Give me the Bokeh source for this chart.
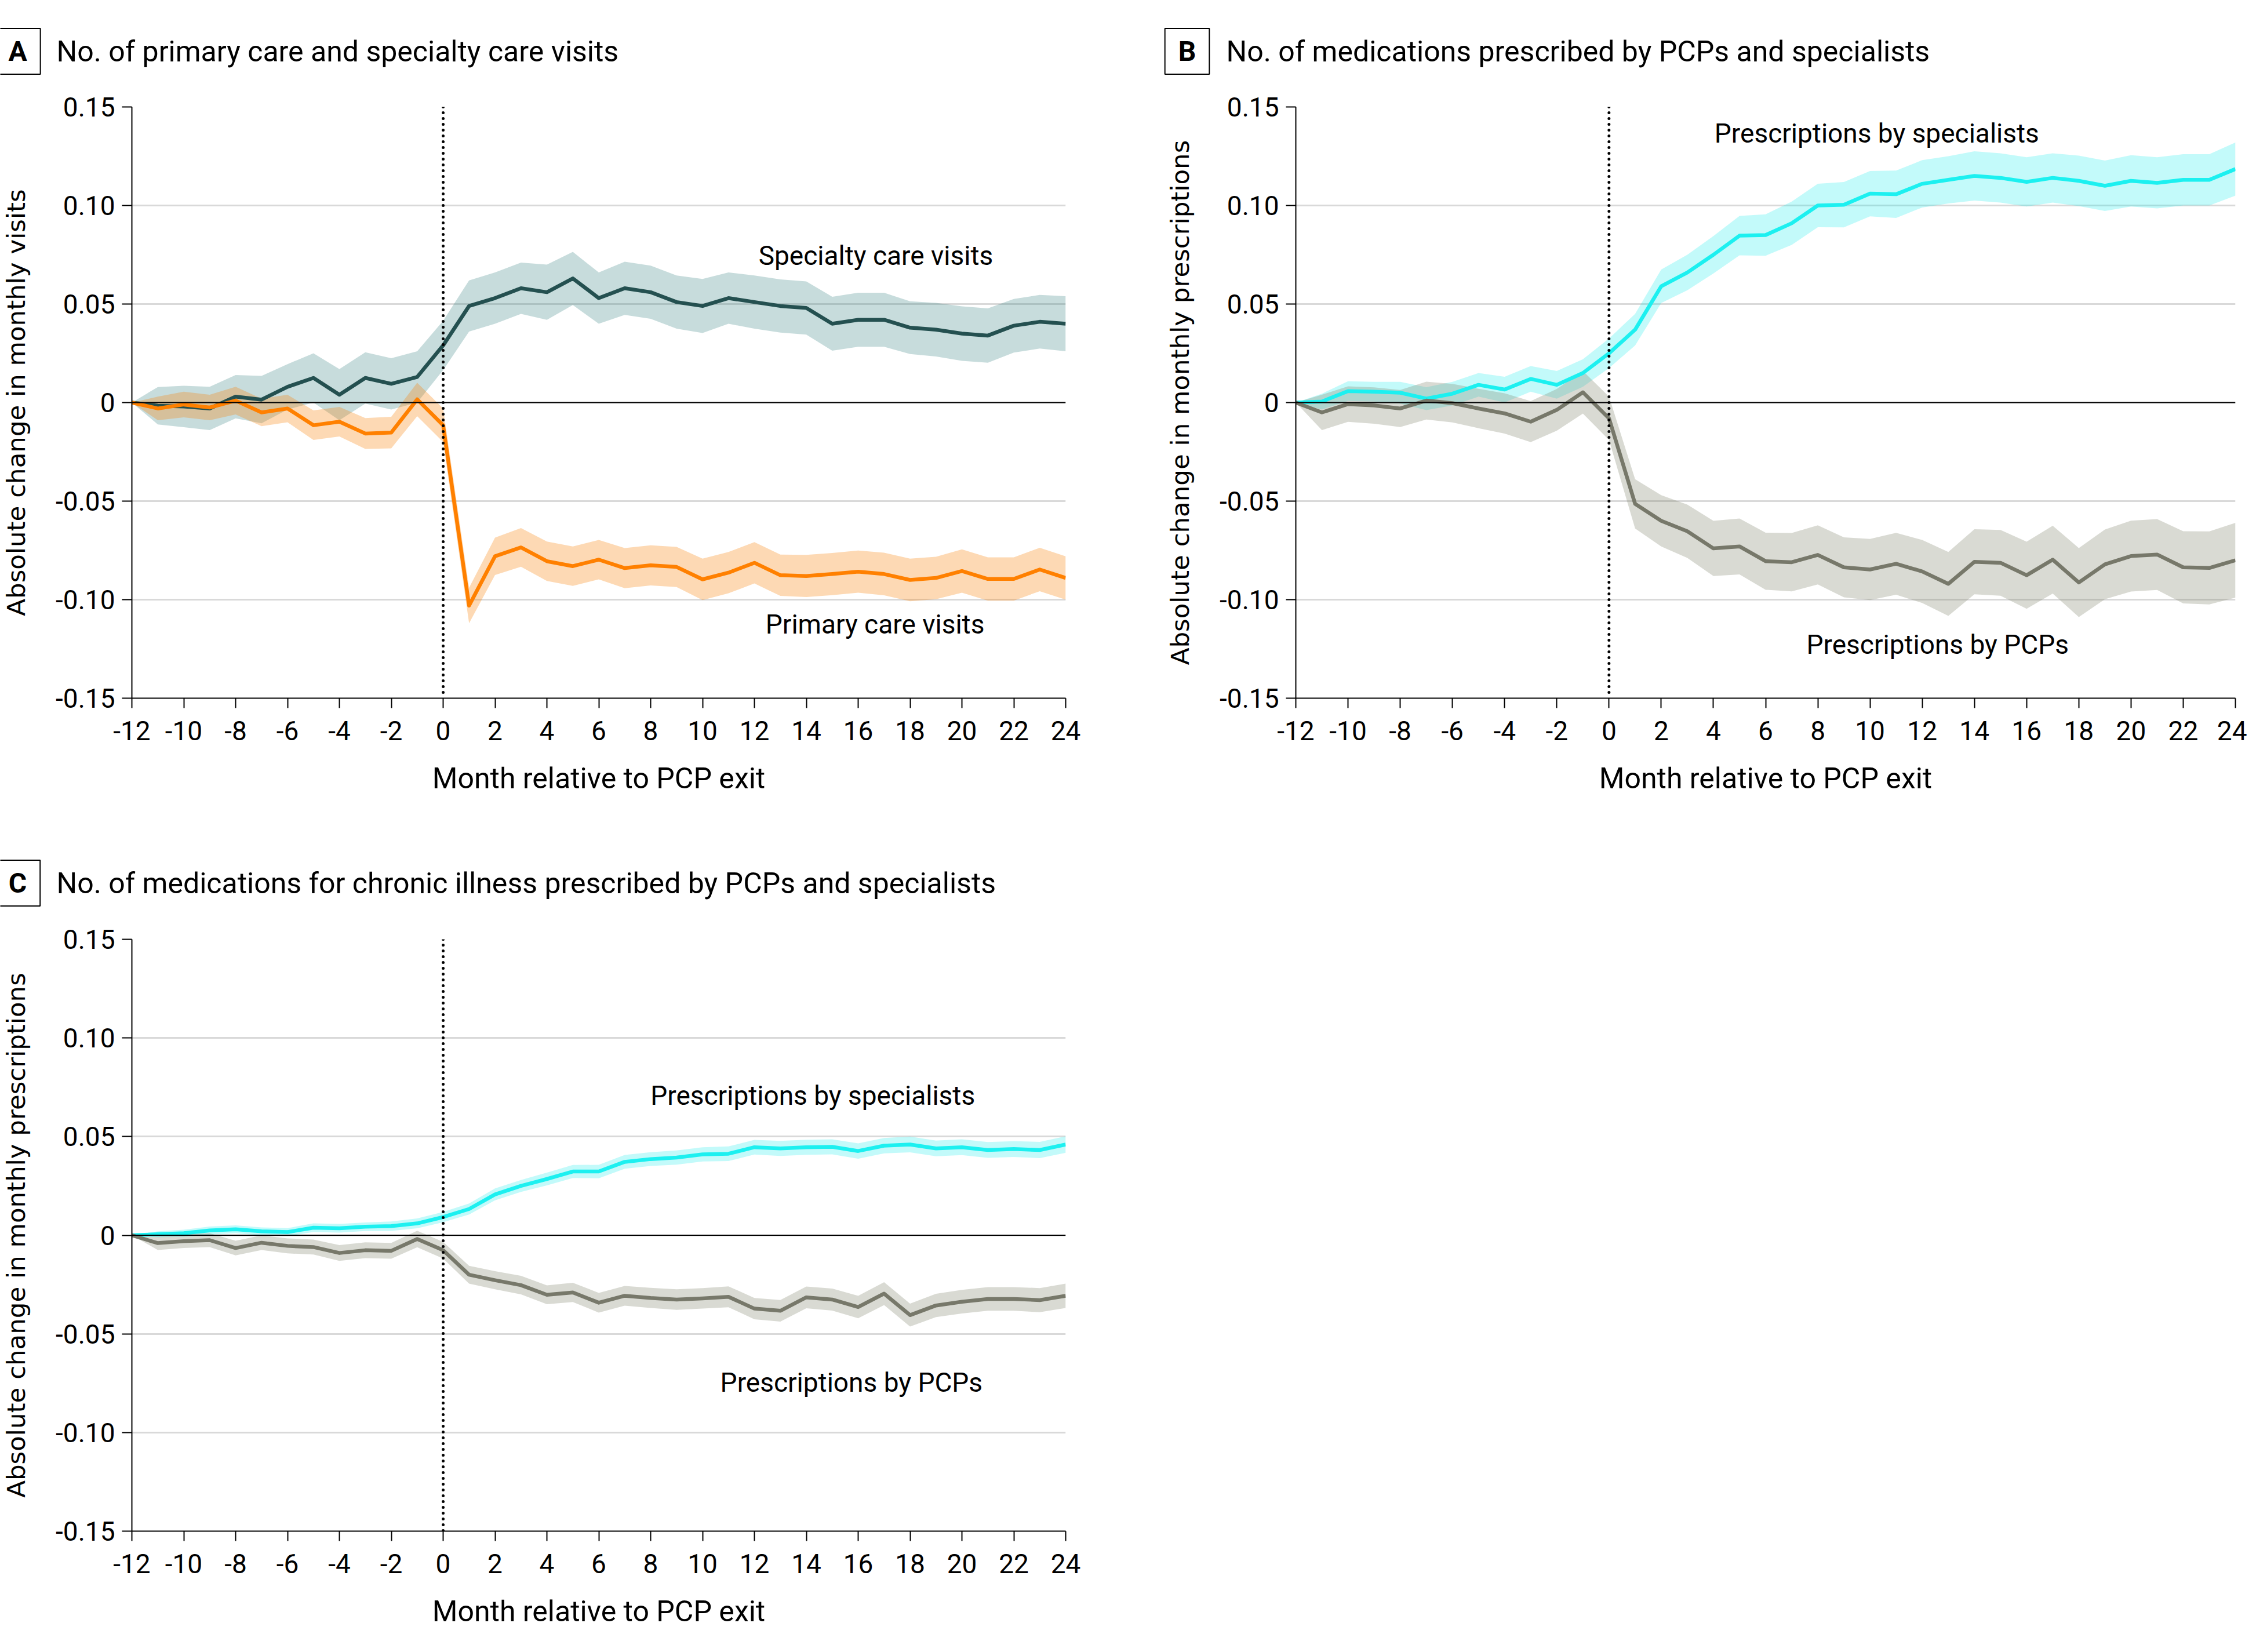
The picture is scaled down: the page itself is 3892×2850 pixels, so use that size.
import numpy as np
from bokeh.plotting import figure
from bokeh.models import FixedTicker, Label, Span
from bokeh.layouts import column, row
from bokeh.embed import file_html
from bokeh.resources import INLINE

months = list(range(-12, 25))
x_ticks = list(range(-12, 25, 2))
x_tick_labels = [str(t) for t in x_ticks]
y_ticks = [-0.15, -0.10, -0.05, 0, 0.05, 0.10, 0.15]
y_tick_labels = ["-0.15", "-0.10", "-0.05", "0", "0.05", "0.10", "0.15"]

# Panel A: visits
a_spec = [0, -0.0016, -0.002, -0.003, 0.003, 0.0015, 0.008, 0.0125, 0.004, 0.0125, 0.0095, 0.013,
          0.029, 0.049, 0.053, 0.058, 0.056, 0.063, 0.053, 0.058, 0.056, 0.051, 0.049, 0.053, 0.051,
          0.049, 0.048, 0.040, 0.042, 0.042, 0.038, 0.037, 0.035, 0.034, 0.039, 0.041, 0.040]
a_spec_hw = [0, 0.0095, 0.0105, 0.011, 0.011, 0.012, 0.0115, 0.0125, 0.013, 0.013, 0.013, 0.013,
             0.0125, 0.013, 0.013, 0.013, 0.014, 0.0135, 0.013, 0.0135, 0.0135, 0.0135, 0.0137, 0.013,
             0.0135, 0.0135, 0.0135, 0.0137, 0.0137, 0.0137, 0.0134, 0.0136, 0.0138, 0.0138, 0.0136,
             0.0136, 0.014]
a_prim = [0, -0.003, -0.001, -0.0025, 0.001, -0.005, -0.003, -0.0115, -0.0097, -0.0157, -0.0152, 0.0016,
          -0.0115, -0.103, -0.078, -0.0735, -0.0805, -0.083, -0.0797, -0.084, -0.0826, -0.0834, -0.0897,
          -0.0863, -0.0813, -0.0876, -0.088, -0.087, -0.0858, -0.087, -0.090, -0.089, -0.0855, -0.0895,
          -0.0895, -0.0847, -0.089]
a_prim_hw = [0, 0.006, 0.0065, 0.0065, 0.007, 0.007, 0.007, 0.0075, 0.0075, 0.0078, 0.008, 0.0085,
             0.0085, 0.009, 0.0095, 0.0098, 0.010, 0.010, 0.010, 0.0102, 0.0102, 0.0102, 0.0105, 0.0105,
             0.0105, 0.0105, 0.0107, 0.0107, 0.0107, 0.0108, 0.0108, 0.0108, 0.011, 0.011, 0.011, 0.011,
             0.011]

# Panel B: all prescriptions
b_spec = [0, 0.0005, 0.0058, 0.0055, 0.005, 0.002, 0.0045, 0.009, 0.0066, 0.012, 0.009, 0.015,
          0.025, 0.037, 0.059, 0.066, 0.075, 0.0847, 0.085, 0.091, 0.100, 0.1004, 0.106, 0.1057, 0.111,
          0.113, 0.115, 0.114, 0.112, 0.114, 0.1125, 0.110, 0.1125, 0.1115, 0.113, 0.113, 0.1185]
b_spec_hw = [0, 0.004, 0.005, 0.005, 0.0055, 0.0058, 0.006, 0.006, 0.0065, 0.0065, 0.007, 0.007,
             0.0075, 0.008, 0.0085, 0.009, 0.0095, 0.010, 0.0105, 0.011, 0.011, 0.0115, 0.0115, 0.012,
             0.012, 0.012, 0.0125, 0.0125, 0.0125, 0.0125, 0.0128, 0.0128, 0.013, 0.013, 0.013, 0.013,
             0.0135]
b_pcp = [0, -0.005, -0.0008, -0.0015, -0.003, 0.001, -0.0003, -0.003, -0.0055, -0.0097, -0.0037, 0.0052,
         -0.008, -0.0514, -0.060, -0.0653, -0.074, -0.073, -0.0805, -0.081, -0.0773, -0.0836, -0.0847,
         -0.0818, -0.0857, -0.092, -0.0808, -0.0813, -0.0876, -0.0797, -0.0913, -0.0821, -0.0779, -0.0771,
         -0.0836, -0.0839, -0.080]
b_pcp_hw = [0, 0.009, 0.009, 0.0092, 0.0094, 0.0096, 0.0098, 0.010, 0.0102, 0.0104, 0.0106, 0.0108,
            0.011, 0.0125, 0.013, 0.0135, 0.014, 0.0142, 0.0145, 0.0148, 0.015, 0.0152, 0.0155, 0.0157,
            0.016, 0.0162, 0.0165, 0.0167, 0.017, 0.0172, 0.0175, 0.0177, 0.018, 0.018, 0.0183, 0.0185,
            0.019]

# Panel C: chronic illness prescriptions
c_spec = [0, 0.0005, 0.001, 0.0024, 0.003, 0.002, 0.0016, 0.0038, 0.0035, 0.0043, 0.0046, 0.006,
          0.0092, 0.0133, 0.0207, 0.025, 0.0285, 0.0323, 0.0323, 0.0372, 0.0386, 0.0394, 0.041, 0.0413,
          0.0446, 0.044, 0.0446, 0.0448, 0.0427, 0.0454, 0.046, 0.044, 0.0446, 0.0432, 0.0437, 0.0432,
          0.046]
c_spec_hw = [0, 0.0015, 0.0018, 0.002, 0.002, 0.002, 0.002, 0.0022, 0.0022, 0.0022, 0.0024, 0.0025,
             0.0026, 0.0028, 0.003, 0.003, 0.0032, 0.0033, 0.0034, 0.0035, 0.0035, 0.0036, 0.0036,
             0.0037, 0.0037, 0.0038, 0.0038, 0.0038, 0.0039, 0.0039, 0.004, 0.004, 0.004, 0.004, 0.004,
             0.0041, 0.0042]
c_pcp = [0, -0.004, -0.003, -0.0025, -0.0065, -0.0038, -0.0054, -0.006, -0.009, -0.0076, -0.0079, -0.0019,
         -0.0076, -0.020, -0.0228, -0.0253, -0.0302, -0.029, -0.0342, -0.0307, -0.0318, -0.0326, -0.032,
         -0.0312, -0.0372, -0.0383, -0.0315, -0.0326, -0.0364, -0.0296, -0.0405, -0.0356, -0.0337,
         -0.0323, -0.0323, -0.0329, -0.0307]
c_pcp_hw = [0, 0.0035, 0.0035, 0.0035, 0.0037, 0.0037, 0.0038, 0.0038, 0.004, 0.004, 0.004, 0.0042,
            0.0042, 0.0045, 0.0046, 0.0047, 0.0048, 0.0049, 0.005, 0.005, 0.0051, 0.0052, 0.0052, 0.0053,
            0.0054, 0.0055, 0.0055, 0.0056, 0.0057, 0.0058, 0.0058, 0.0059, 0.006, 0.006, 0.006, 0.0061,
            0.0062]

FONT = "Roboto"
YLABF = "DejaVu Sans"

C_TEAL, C_TEAL_BAND = "#245050", "#448a8a"
C_ORANGE, C_ORANGE_BAND = "#ff8000", "#f88008"
C_CYAN, C_CYAN_BAND = "#1cf0f0", "#0febeb"
C_GRAY, C_GRAY_BAND = "#77786a", "#80846c"


def make_header(width, height, entries):
    h = figure(width=width, height=height, x_range=(0, width), y_range=(height, 0),
               output_backend="svg", toolbar_location=None, min_border=0,
               min_border_left=0, min_border_right=0, min_border_top=0, min_border_bottom=0,
               x_axis_location=None, y_axis_location=None)
    h.grid.visible = False
    h.outline_line_color = None
    h.background_fill_color = "white"
    h.border_fill_color = "white"
    for letter, title, box_cx, cy, title_x in entries:
        h.add_layout(Label(x=box_cx, y=cy, text=letter, text_font=FONT, text_font_size="48px",
                           text_font_style="bold", text_align="center", text_baseline="middle",
                           text_color="black", border_line_color="black", border_line_width=2,
                           padding=(23, 11)))
        h.add_layout(Label(x=title_x, y=cy, text=title, text_font=FONT, text_font_size="50px",
                           text_align="left", text_baseline="middle", text_color="black"))
    return h


def make_panel(ylabel, series, labels, width, height, left, right, top, bottom):
    p = figure(width=width, height=height, x_range=(-12, 24), y_range=(-0.15, 0.15),
               output_backend="svg", toolbar_location=None,
               min_border_left=left, min_border_right=right,
               min_border_top=top, min_border_bottom=bottom)
    p.outline_line_color = None
    p.background_fill_color = "white"
    p.border_fill_color = "white"

    p.xgrid.visible = False
    p.ygrid.ticker = FixedTicker(ticks=y_ticks)
    p.ygrid.grid_line_color = "#d9d9d9"
    p.ygrid.grid_line_width = 3

    for ax in (p.xaxis[0], p.yaxis[0]):
        ax.axis_line_width = 2
        ax.axis_line_color = "black"
        ax.major_tick_line_width = 2
        ax.major_tick_out = 17
        ax.major_tick_in = 0
        ax.minor_tick_line_color = None
        ax.major_label_text_font = FONT
        ax.major_label_text_font_size = "46px"
        ax.major_label_text_color = "black"
        ax.axis_label_text_font_style = "normal"
        ax.axis_label_text_color = "black"

    p.xaxis.ticker = FixedTicker(ticks=x_ticks)
    p.xaxis.major_label_overrides = {t: s for t, s in zip(x_ticks, x_tick_labels)}
    p.xaxis.major_label_standoff = 22
    p.xaxis.axis_label = "Month relative to PCP exit"
    p.xaxis.axis_label_text_font = FONT
    p.xaxis.axis_label_text_font_size = "50px"
    p.xaxis.axis_label_standoff = 34

    p.yaxis.ticker = FixedTicker(ticks=y_ticks)
    p.yaxis.major_label_overrides = {t: s for t, s in zip(y_ticks, y_tick_labels)}
    p.yaxis.major_label_standoff = 12
    p.yaxis.axis_label = ylabel
    p.yaxis.axis_label_text_font = YLABF
    p.yaxis.axis_label_text_font_size = "43.5px"
    p.yaxis.axis_label_standoff = 40

    x = np.array(months, dtype=float)
    for vals, hw, line_col, band_col, alpha in series:
        v = np.array(vals)
        h = np.array(hw)
        p.varea(x=x, y1=v - h, y2=v + h, fill_color=band_col, fill_alpha=alpha)

    p.add_layout(Span(location=0, dimension="width", line_color="black", line_width=2, level="glyph"))
    p.add_layout(Span(location=0, dimension="height", line_color="black", line_width=5,
                      line_dash="0 10", line_cap="round", level="glyph"))

    for vals, hw, line_col, band_col, alpha in series:
        p.line(x, vals, line_color=line_col, line_width=6.5, line_join="round")

    for txt, lx, ly in labels:
        p.add_layout(Label(x=lx, y=ly, text=txt, text_font=FONT, text_font_size="46px",
                           text_align="center", text_baseline="middle", text_color="black"))
    return p


hAB = make_header(3876, 130, [
    ("A", "No. of primary care and specialty care visits", 30, 88, 97),
    ("B", "No. of medications prescribed by PCPs and specialists", 2047.5, 88, 2115),
])
hC = make_header(1900, 146, [
    ("C", "No. of medications for chronic illness prescribed by PCPs and specialists", 30, 103, 97),
])

pA = make_panel("Absolute change in monthly visits",
                [(a_spec, a_spec_hw, C_TEAL, C_TEAL_BAND, 0.3),
                 (a_prim, a_prim_hw, C_ORANGE, C_ORANGE_BAND, 0.3)],
                [("Specialty care visits", 16.68, 0.0745), ("Primary care visits", 16.65, -0.1125)],
                1900, 1290, 217, 62, 54, 216)

pB = make_panel("Absolute change in monthly prescriptions",
                [(b_spec, b_spec_hw, C_CYAN, C_CYAN_BAND, 0.25),
                 (b_pcp, b_pcp_hw, C_GRAY, C_GRAY_BAND, 0.3)],
                [("Prescriptions by specialists", 10.26, 0.1366), ("Prescriptions by PCPs", 12.59, -0.1227)],
                1976, 1290, 335, 20, 54, 216)

pC = make_panel("Absolute change in monthly prescriptions",
                [(c_spec, c_spec_hw, C_CYAN, C_CYAN_BAND, 0.25),
                 (c_pcp, c_pcp_hw, C_GRAY, C_GRAY_BAND, 0.3)],
                [("Prescriptions by specialists", 14.25, 0.0707), ("Prescriptions by PCPs", 15.74, -0.0745)],
                1900, 1245, 217, 62, 54, 170)

layout = column(hAB, row(pA, pB), row(hC), row(pC))
open("out.html", "w").write(file_html(layout, INLINE))
